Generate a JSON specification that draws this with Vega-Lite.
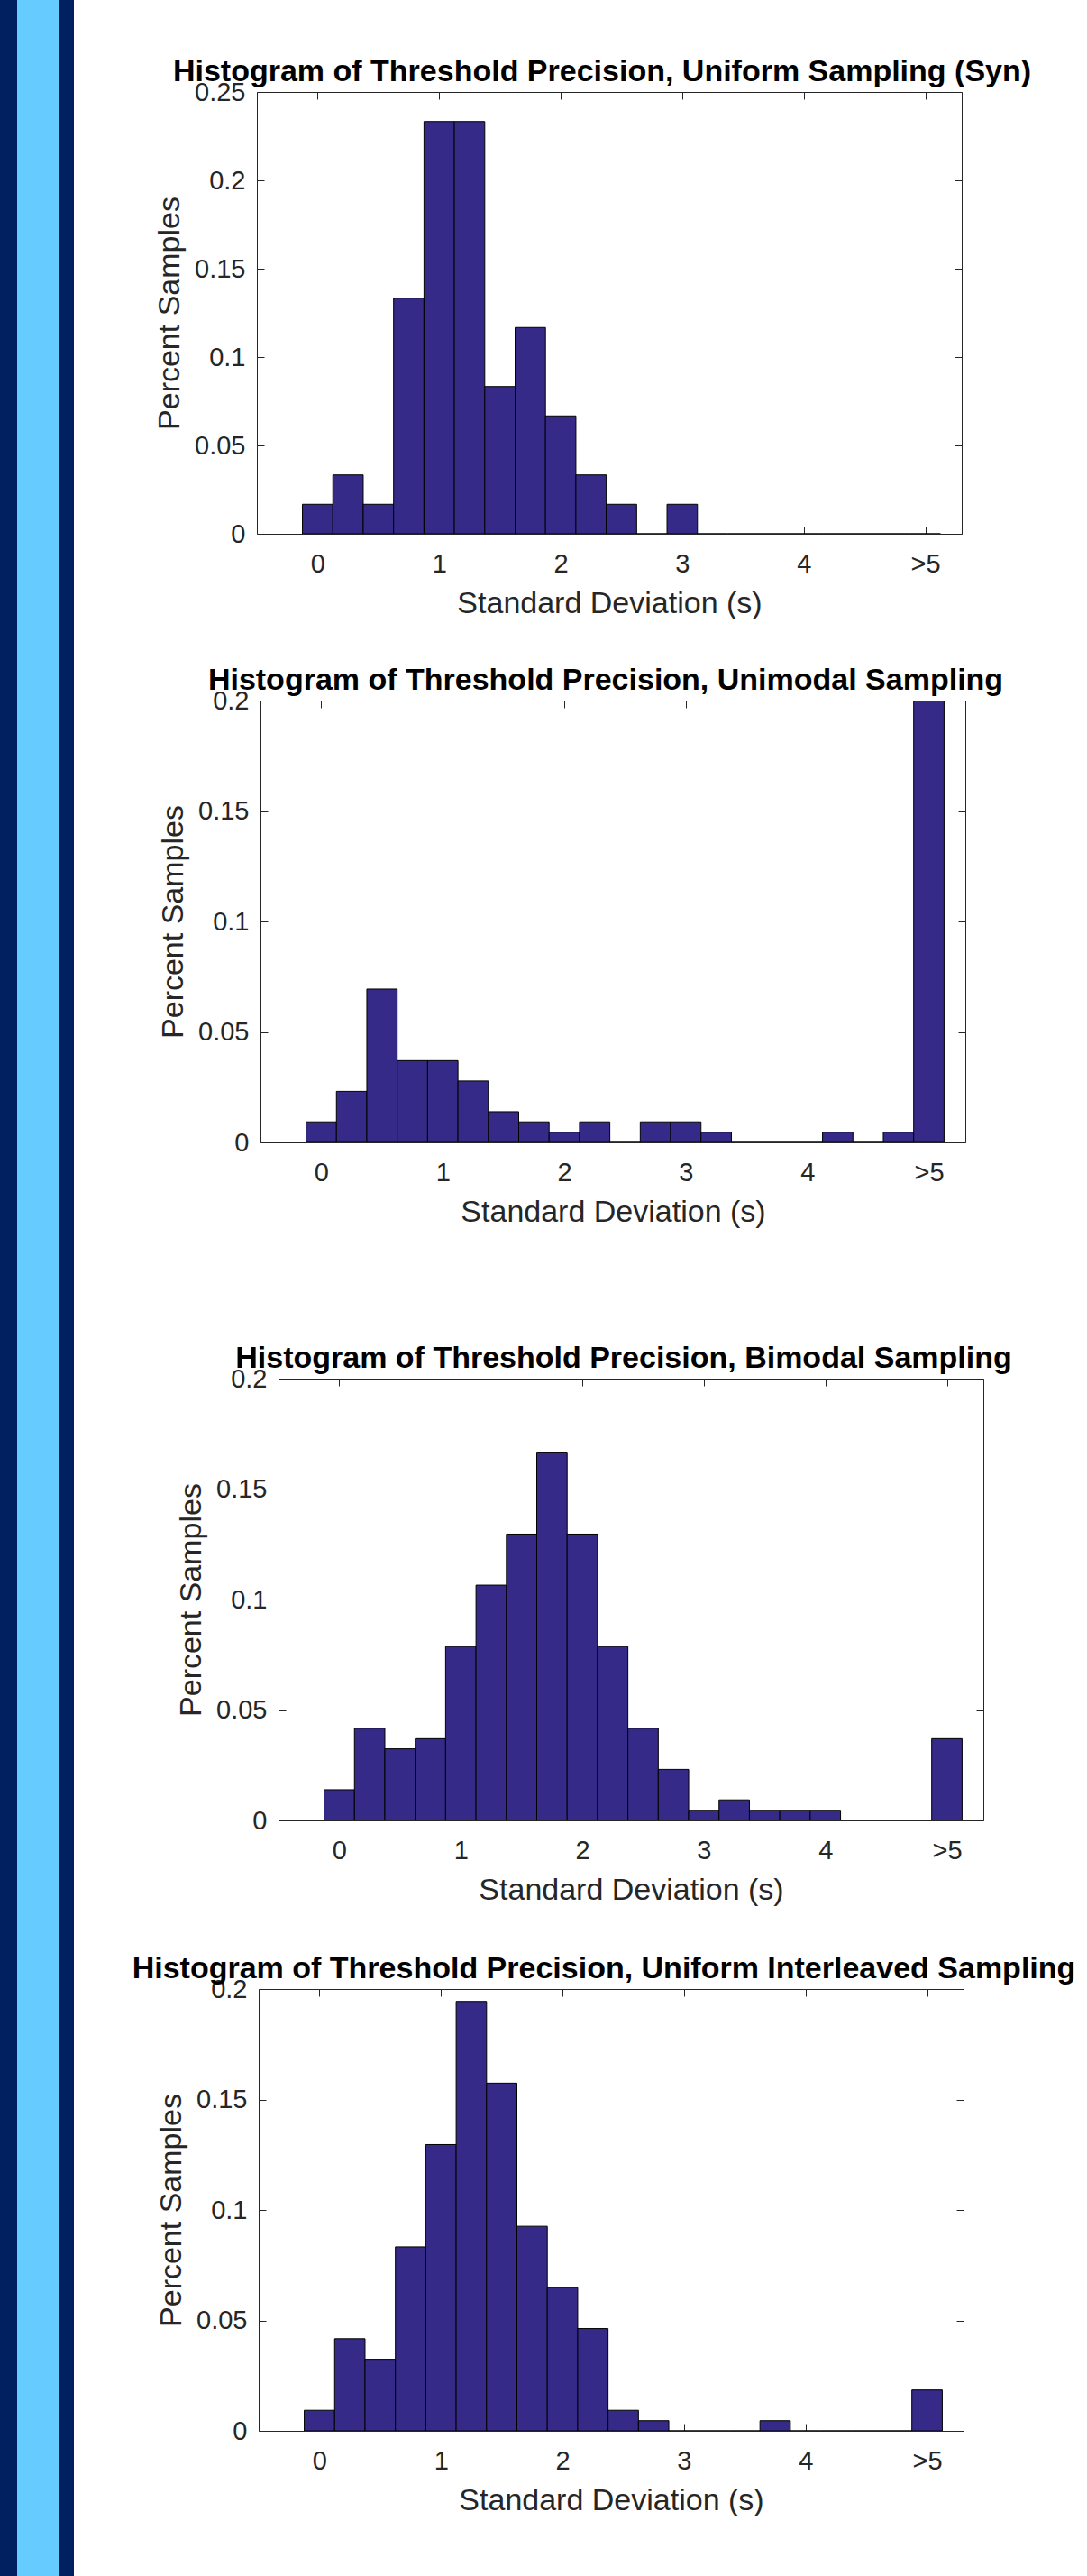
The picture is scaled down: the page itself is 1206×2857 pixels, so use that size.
{
  "$schema": "https://vega.github.io/schema/vega-lite/v6.json",
  "background": "#ffffff",
  "padding": 0,
  "datasets": {
    "syn": [
      {"bin_start": -0.125, "bin_end": 0.125, "value": 0.0167},
      {"bin_start": 0.125, "bin_end": 0.375, "value": 0.0333},
      {"bin_start": 0.375, "bin_end": 0.625, "value": 0.0167},
      {"bin_start": 0.625, "bin_end": 0.875, "value": 0.1333},
      {"bin_start": 0.875, "bin_end": 1.125, "value": 0.2333},
      {"bin_start": 1.125, "bin_end": 1.375, "value": 0.2333},
      {"bin_start": 1.375, "bin_end": 1.625, "value": 0.0833},
      {"bin_start": 1.625, "bin_end": 1.875, "value": 0.1167},
      {"bin_start": 1.875, "bin_end": 2.125, "value": 0.0667},
      {"bin_start": 2.125, "bin_end": 2.375, "value": 0.0333},
      {"bin_start": 2.375, "bin_end": 2.625, "value": 0.0167},
      {"bin_start": 2.625, "bin_end": 2.875, "value": 0},
      {"bin_start": 2.875, "bin_end": 3.125, "value": 0.0167},
      {"bin_start": 3.125, "bin_end": 3.375, "value": 0},
      {"bin_start": 3.375, "bin_end": 3.625, "value": 0},
      {"bin_start": 3.625, "bin_end": 3.875, "value": 0},
      {"bin_start": 3.875, "bin_end": 4.125, "value": 0},
      {"bin_start": 4.125, "bin_end": 4.375, "value": 0},
      {"bin_start": 4.375, "bin_end": 4.625, "value": 0},
      {"bin_start": 4.625, "bin_end": 4.875, "value": 0},
      {"bin_start": 4.875, "bin_end": 5.125, "value": 0}
    ],
    "unimodal": [
      {"bin_start": -0.125, "bin_end": 0.125, "value": 0.0093},
      {"bin_start": 0.125, "bin_end": 0.375, "value": 0.0231},
      {"bin_start": 0.375, "bin_end": 0.625, "value": 0.0694},
      {"bin_start": 0.625, "bin_end": 0.875, "value": 0.037},
      {"bin_start": 0.875, "bin_end": 1.125, "value": 0.037},
      {"bin_start": 1.125, "bin_end": 1.375, "value": 0.0278},
      {"bin_start": 1.375, "bin_end": 1.625, "value": 0.0139},
      {"bin_start": 1.625, "bin_end": 1.875, "value": 0.0093},
      {"bin_start": 1.875, "bin_end": 2.125, "value": 0.0046},
      {"bin_start": 2.125, "bin_end": 2.375, "value": 0.0093},
      {"bin_start": 2.375, "bin_end": 2.625, "value": 0},
      {"bin_start": 2.625, "bin_end": 2.875, "value": 0.0093},
      {"bin_start": 2.875, "bin_end": 3.125, "value": 0.0093},
      {"bin_start": 3.125, "bin_end": 3.375, "value": 0.0046},
      {"bin_start": 3.375, "bin_end": 3.625, "value": 0},
      {"bin_start": 3.625, "bin_end": 3.875, "value": 0},
      {"bin_start": 3.875, "bin_end": 4.125, "value": 0},
      {"bin_start": 4.125, "bin_end": 4.375, "value": 0.0046},
      {"bin_start": 4.375, "bin_end": 4.625, "value": 0},
      {"bin_start": 4.625, "bin_end": 4.875, "value": 0.0046},
      {"bin_start": 4.875, "bin_end": 5.125, "value": 0.727}
    ],
    "bimodal": [
      {"bin_start": -0.125, "bin_end": 0.125, "value": 0.0139},
      {"bin_start": 0.125, "bin_end": 0.375, "value": 0.0417},
      {"bin_start": 0.375, "bin_end": 0.625, "value": 0.0324},
      {"bin_start": 0.625, "bin_end": 0.875, "value": 0.037},
      {"bin_start": 0.875, "bin_end": 1.125, "value": 0.0787},
      {"bin_start": 1.125, "bin_end": 1.375, "value": 0.1065},
      {"bin_start": 1.375, "bin_end": 1.625, "value": 0.1296},
      {"bin_start": 1.625, "bin_end": 1.875, "value": 0.1667},
      {"bin_start": 1.875, "bin_end": 2.125, "value": 0.1296},
      {"bin_start": 2.125, "bin_end": 2.375, "value": 0.0787},
      {"bin_start": 2.375, "bin_end": 2.625, "value": 0.0417},
      {"bin_start": 2.625, "bin_end": 2.875, "value": 0.0231},
      {"bin_start": 2.875, "bin_end": 3.125, "value": 0.0046},
      {"bin_start": 3.125, "bin_end": 3.375, "value": 0.0093},
      {"bin_start": 3.375, "bin_end": 3.625, "value": 0.0046},
      {"bin_start": 3.625, "bin_end": 3.875, "value": 0.0046},
      {"bin_start": 3.875, "bin_end": 4.125, "value": 0.0046},
      {"bin_start": 4.125, "bin_end": 4.375, "value": 0},
      {"bin_start": 4.375, "bin_end": 4.625, "value": 0},
      {"bin_start": 4.625, "bin_end": 4.875, "value": 0},
      {"bin_start": 4.875, "bin_end": 5.125, "value": 0.037}
    ],
    "interleaved": [
      {"bin_start": -0.125, "bin_end": 0.125, "value": 0.0093},
      {"bin_start": 0.125, "bin_end": 0.375, "value": 0.0417},
      {"bin_start": 0.375, "bin_end": 0.625, "value": 0.0324},
      {"bin_start": 0.625, "bin_end": 0.875, "value": 0.0833},
      {"bin_start": 0.875, "bin_end": 1.125, "value": 0.1296},
      {"bin_start": 1.125, "bin_end": 1.375, "value": 0.1944},
      {"bin_start": 1.375, "bin_end": 1.625, "value": 0.1574},
      {"bin_start": 1.625, "bin_end": 1.875, "value": 0.0926},
      {"bin_start": 1.875, "bin_end": 2.125, "value": 0.0648},
      {"bin_start": 2.125, "bin_end": 2.375, "value": 0.0463},
      {"bin_start": 2.375, "bin_end": 2.625, "value": 0.0093},
      {"bin_start": 2.625, "bin_end": 2.875, "value": 0.0046},
      {"bin_start": 2.875, "bin_end": 3.125, "value": 0},
      {"bin_start": 3.125, "bin_end": 3.375, "value": 0},
      {"bin_start": 3.375, "bin_end": 3.625, "value": 0},
      {"bin_start": 3.625, "bin_end": 3.875, "value": 0.0046},
      {"bin_start": 3.875, "bin_end": 4.125, "value": 0},
      {"bin_start": 4.125, "bin_end": 4.375, "value": 0},
      {"bin_start": 4.375, "bin_end": 4.625, "value": 0},
      {"bin_start": 4.625, "bin_end": 4.875, "value": 0},
      {"bin_start": 4.875, "bin_end": 5.125, "value": 0.0185}
    ]
  },
  "hconcat": [
    {"hconcat": [
      {"width": 19, "height": 2857, "view": {"fill": "#002060", "stroke": null}, "data": {"values": [{}]}, "mark": {"type": "rect", "color": "#002060"}},
      {"width": 47, "height": 2857, "view": {"fill": "#66CCFF", "stroke": null}, "data": {"values": [{}]}, "mark": {"type": "rect", "color": "#66CCFF"}},
      {"width": 16, "height": 2857, "view": {"fill": "#002060", "stroke": null}, "data": {"values": [{}]}, "mark": {"type": "rect", "color": "#002060"}}
    ], "spacing": 0},
    {"vconcat": [
      {"width": 1, "height": 62.4, "data": {"values": [{}]}, "mark": {"type": "rect", "opacity": 0}},
      {"hconcat": [
        {"width": 28.6, "height": 1, "data": {"values": [{}]}, "mark": {"type": "rect", "opacity": 0}},
        {
          "width": 782, "height": 490,
          "title": {"text": "Histogram of Threshold Precision, Uniform Sampling (Syn)"},
          "data": {"name": "syn"},
          "layer": [
            {"mark": {"type": "rect", "fill": "#352A87", "stroke": "#000000", "strokeWidth": 1, "clip": true},
             "encoding": {
               "x": {"field": "bin_start", "type": "quantitative", "scale": {"domain": [-0.5, 5.3], "nice": false, "zero": false},
                     "axis": {"orient": "bottom", "values": [0, 1, 2, 3, 4, 5], "format": "d", "labelExpr": "datum.value == 5 ? '>5' : datum.label", "title": "Standard Deviation (s)", "titleFontSize": 34}},
               "x2": {"field": "bin_end"},
               "y": {"field": "value", "type": "quantitative", "scale": {"domain": [0, 0.25], "nice": false, "zero": true},
                     "axis": {"orient": "left", "values": [0, 0.05, 0.1, 0.15, 0.2, 0.25], "format": "~g", "title": "Percent Samples", "titleFontSize": 34}},
               "y2": {"datum": 0}
             }},
            {"mark": {"type": "point", "opacity": 0, "clip": true},
             "encoding": {
               "x": {"field": "bin_start", "type": "quantitative", "axis": {"orient": "top", "values": [0, 1, 2, 3, 4, 5], "labels": false, "title": null}},
               "y": {"field": "value", "type": "quantitative", "axis": {"orient": "right", "values": [0, 0.05, 0.1, 0.15, 0.2, 0.25], "labels": false, "title": null}}
             }}
          ],
          "resolve": {"axis": {"x": "independent", "y": "independent"}}
        }
      ], "spacing": 0},
      {"width": 1, "height": 51.6, "data": {"values": [{}]}, "mark": {"type": "rect", "opacity": 0}},
      {"hconcat": [
        {"width": 32.1, "height": 1, "data": {"values": [{}]}, "mark": {"type": "rect", "opacity": 0}},
        {
          "width": 782, "height": 490,
          "title": {"text": "Histogram of Threshold Precision, Unimodal Sampling"},
          "data": {"name": "unimodal"},
          "layer": [
            {"mark": {"type": "rect", "fill": "#352A87", "stroke": "#000000", "strokeWidth": 1, "clip": true},
             "encoding": {
               "x": {"field": "bin_start", "type": "quantitative", "scale": {"domain": [-0.5, 5.3], "nice": false, "zero": false},
                     "axis": {"orient": "bottom", "values": [0, 1, 2, 3, 4, 5], "format": "d", "labelExpr": "datum.value == 5 ? '>5' : datum.label", "title": "Standard Deviation (s)", "titleFontSize": 34}},
               "x2": {"field": "bin_end"},
               "y": {"field": "value", "type": "quantitative", "scale": {"domain": [0, 0.2], "nice": false, "zero": true},
                     "axis": {"orient": "left", "values": [0, 0.05, 0.1, 0.15, 0.2], "format": "~g", "title": "Percent Samples", "titleFontSize": 34}},
               "y2": {"datum": 0}
             }},
            {"mark": {"type": "point", "opacity": 0, "clip": true},
             "encoding": {
               "x": {"field": "bin_start", "type": "quantitative", "axis": {"orient": "top", "values": [0, 1, 2, 3, 4, 5], "labels": false, "title": null}},
               "y": {"field": "value", "type": "quantitative", "axis": {"orient": "right", "values": [0, 0.05, 0.1, 0.15, 0.2], "labels": false, "title": null}}
             }}
          ],
          "resolve": {"axis": {"x": "independent", "y": "independent"}}
        }
      ], "spacing": 0},
      {"width": 1, "height": 128.5, "data": {"values": [{}]}, "mark": {"type": "rect", "opacity": 0}},
      {"hconcat": [
        {"width": 52.6, "height": 1, "data": {"values": [{}]}, "mark": {"type": "rect", "opacity": 0}},
        {
          "width": 782, "height": 490,
          "title": {"text": "Histogram of Threshold Precision, Bimodal Sampling"},
          "data": {"name": "bimodal"},
          "layer": [
            {"mark": {"type": "rect", "fill": "#352A87", "stroke": "#000000", "strokeWidth": 1, "clip": true},
             "encoding": {
               "x": {"field": "bin_start", "type": "quantitative", "scale": {"domain": [-0.5, 5.3], "nice": false, "zero": false},
                     "axis": {"orient": "bottom", "values": [0, 1, 2, 3, 4, 5], "format": "d", "labelExpr": "datum.value == 5 ? '>5' : datum.label", "title": "Standard Deviation (s)", "titleFontSize": 34}},
               "x2": {"field": "bin_end"},
               "y": {"field": "value", "type": "quantitative", "scale": {"domain": [0, 0.2], "nice": false, "zero": true},
                     "axis": {"orient": "left", "values": [0, 0.05, 0.1, 0.15, 0.2], "format": "~g", "title": "Percent Samples", "titleFontSize": 34}},
               "y2": {"datum": 0}
             }},
            {"mark": {"type": "point", "opacity": 0, "clip": true},
             "encoding": {
               "x": {"field": "bin_start", "type": "quantitative", "axis": {"orient": "top", "values": [0, 1, 2, 3, 4, 5], "labels": false, "title": null}},
               "y": {"field": "value", "type": "quantitative", "axis": {"orient": "right", "values": [0, 0.05, 0.1, 0.15, 0.2], "labels": false, "title": null}}
             }}
          ],
          "resolve": {"axis": {"x": "independent", "y": "independent"}}
        }
      ], "spacing": 0},
      {"width": 1, "height": 53.9, "data": {"values": [{}]}, "mark": {"type": "rect", "opacity": 0}},
      {"hconcat": [
        {"width": 3.7, "height": 1, "data": {"values": [{}]}, "mark": {"type": "rect", "opacity": 0}},
        {
          "width": 782, "height": 490,
          "title": {"text": "Histogram of Threshold Precision, Uniform Interleaved Sampling"},
          "data": {"name": "interleaved"},
          "layer": [
            {"mark": {"type": "rect", "fill": "#352A87", "stroke": "#000000", "strokeWidth": 1, "clip": true},
             "encoding": {
               "x": {"field": "bin_start", "type": "quantitative", "scale": {"domain": [-0.5, 5.3], "nice": false, "zero": false},
                     "axis": {"orient": "bottom", "values": [0, 1, 2, 3, 4, 5], "format": "d", "labelExpr": "datum.value == 5 ? '>5' : datum.label", "title": "Standard Deviation (s)", "titleFontSize": 34}},
               "x2": {"field": "bin_end"},
               "y": {"field": "value", "type": "quantitative", "scale": {"domain": [0, 0.2], "nice": false, "zero": true},
                     "axis": {"orient": "left", "values": [0, 0.05, 0.1, 0.15, 0.2], "format": "~g", "title": "Percent Samples", "titleFontSize": 34}},
               "y2": {"datum": 0}
             }},
            {"mark": {"type": "point", "opacity": 0, "clip": true},
             "encoding": {
               "x": {"field": "bin_start", "type": "quantitative", "axis": {"orient": "top", "values": [0, 1, 2, 3, 4, 5], "labels": false, "title": null}},
               "y": {"field": "value", "type": "quantitative", "axis": {"orient": "right", "values": [0, 0.05, 0.1, 0.15, 0.2], "labels": false, "title": null}}
             }}
          ],
          "resolve": {"axis": {"x": "independent", "y": "independent"}}
        }
      ], "spacing": 0}
    ], "spacing": 0}
  ],
  "spacing": 60,
  "config": {
    "view": {"stroke": null},
    "font": "Liberation Sans, Arial, Helvetica, sans-serif",
    "concat": {"spacing": 0},
    "axis": {
      "grid": false,
      "domainColor": "#262626",
      "domainWidth": 1,
      "tickColor": "#262626",
      "tickWidth": 1,
      "tickSize": -8,
      "labelColor": "#262626",
      "labelFont": "Liberation Sans, Arial, Helvetica, sans-serif",
      "labelFontSize": 29,
      "labelFlush": false,
      "labelOverlap": false,
      "titleColor": "#262626",
      "titleFont": "Liberation Sans, Arial, Helvetica, sans-serif",
      "titleFontWeight": "normal"
    },
    "axisBottom": {"labelPadding": 27, "titlePadding": 12},
    "axisLeft": {"labelPadding": 21, "titlePadding": 10},
    "title": {
      "font": "Liberation Sans, Arial, Helvetica, sans-serif",
      "fontSize": 34,
      "fontWeight": "bold",
      "color": "#000000",
      "offset": -9,
      "baseline": "alphabetic",
      "anchor": "middle",
      "frame": "group",
      "dx": -8
    }
  }
}
